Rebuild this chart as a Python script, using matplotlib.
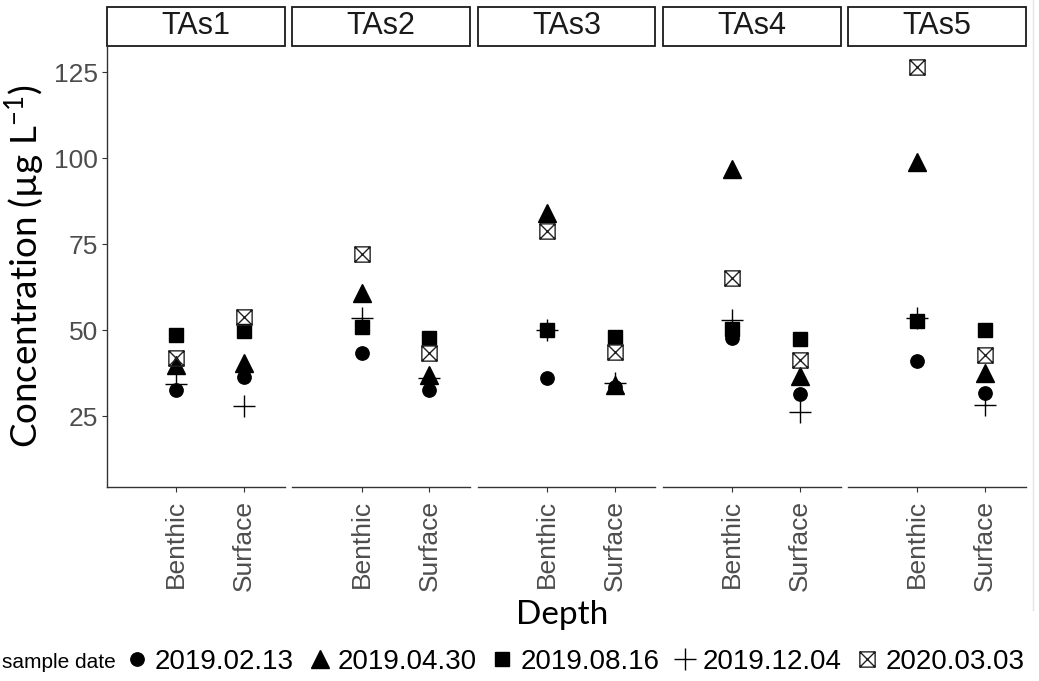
import matplotlib
matplotlib.use("Agg")
import matplotlib.pyplot as plt
from matplotlib.lines import Line2D
from matplotlib.patches import Rectangle
from matplotlib.path import Path

plt.rcParams['font.family'] = ['Liberation Sans', 'DejaVu Sans']
plt.rcParams['mathtext.default'] = 'regular'

sites = ['TAs1', 'TAs2', 'TAs3', 'TAs4', 'TAs5']
depths = ['Benthic', 'Surface']
dates = ['2019.02.13', '2019.04.30', '2019.08.16', '2019.12.04', '2020.03.03']

# concentration per site, [Benthic, Surface]
conc_0213 = [[32.6, 36.3], [43.3, 32.6], [36.1, 33.6], [47.8, 31.3], [41.0, 31.6]]
conc_0430 = [[40.0, 40.5], [60.8, 37.1], [84.1, 34.0], [96.9, 36.6], [98.8, 37.6]]
conc_0816 = [[48.7, 49.7], [50.9, 47.8], [49.9, 48.0], [50.4, 47.3], [52.6, 49.9]]
conc_1204 = [[34.2, 27.9], [53.4, 36.1], [50.0, 34.7], [52.9, 26.2], [53.6, 28.1]]
conc_0303 = [[42.0, 53.8], [72.0, 43.4], [78.8, 43.6], [65.2, 41.3], [126.5, 42.7]]
series = [conc_0213, conc_0430, conc_0816, conc_1204, conc_0303]

# square with an x inside (ggplot shape 7)
box_x = Path([(-0.5, -0.5), (0.5, -0.5), (0.5, 0.5), (-0.5, 0.5), (-0.5, -0.5),
              (-0.5, -0.5), (0.5, 0.5), (-0.5, 0.5), (0.5, -0.5)],
             [Path.MOVETO, Path.LINETO, Path.LINETO, Path.LINETO, Path.CLOSEPOLY,
              Path.MOVETO, Path.LINETO, Path.MOVETO, Path.LINETO])

styles = [
    dict(marker='o', markersize=9.6, color='black'),
    dict(marker='^', markersize=13, color='black'),
    dict(marker='s', markersize=10, color='black'),
    dict(marker='+', markersize=16, color='black', markeredgewidth=1.0),
    dict(marker=box_x, markersize=11, color='#222222', markerfacecolor='none',
         markeredgewidth=1.0),
]

fig, axes = plt.subplots(1, 5, figsize=(10.39, 6.81), dpi=100, sharey=True)
fig.subplots_adjust(left=107/1039, right=1026/1039, top=1-46/681,
                    bottom=1-487/681, wspace=0.041)

xpos = [1, 2]
for i, ax in enumerate(axes):
    for vals, st in zip(series, styles):
        ax.plot(xpos, vals[i], linestyle='none', **st)
    ax.set_xlim(-0.02, 2.6)
    ax.set_ylim(4.4, 132.6)
    ax.set_xticks(xpos)
    ax.set_xticklabels(depths, rotation=90, color='#4d4d4d')
    ax.set_yticks([25, 50, 75, 100, 125])
    ax.tick_params(axis='both', colors='#333333', labelcolor='#4d4d4d',
                   length=3.5, width=0.8, labelsize=19, pad=3)
    ax.tick_params(axis='x', pad=6)
    for s in ['top', 'right', 'left']:
        ax.spines[s].set_visible(False)
    ax.spines['bottom'].set_color('#333333')
    ax.spines['bottom'].set_linewidth(1.0)
    if i > 0:
        ax.tick_params(axis='y', left=False, labelleft=False)
    else:
        ax.spines['left'].set_visible(True)
        ax.spines['left'].set_color('#333333')
        ax.spines['left'].set_linewidth(1.0)

    # facet strip
    ax.add_patch(Rectangle((0, 1.0), 1, 39/441, transform=ax.transAxes,
                           facecolor='white', edgecolor='#1a1a1a',
                           linewidth=1.3, clip_on=False))
    ax.text(0.5, 1 + 19.5/441, sites[i], transform=ax.transAxes,
            ha='center', va='center', fontsize=22, color='#1a1a1a')

axes[0].set_ylabel('Concentration (µg L$^{-1}$)', family='Lato', fontsize=26.5,
                   color='black', labelpad=4)
fig.text(562/1039, 1-615/681, 'Depth', family='Lato', fontsize=24,
         ha='center', va='center')

# legend along the bottom
fig.text(2/1039, 1-662/681, 'sample date', fontsize=15, ha='left', va='center')
handles = [Line2D([], [], linestyle='none', **st) for st in styles]
fig.legend(handles, dates, loc='center left', ncol=5,
           bbox_to_anchor=(123/1039, 1-662/681), frameon=False, fontsize=20,
           handlelength=1.0, handletextpad=0.15, columnspacing=0.42,
           borderpad=0, borderaxespad=0)

fig.add_artist(Line2D([1033/1039, 1033/1039], [1-610/681, 1.0],
                      color='#e4e4e4', linewidth=1.0))

fig.savefig('out.png', dpi=100)
